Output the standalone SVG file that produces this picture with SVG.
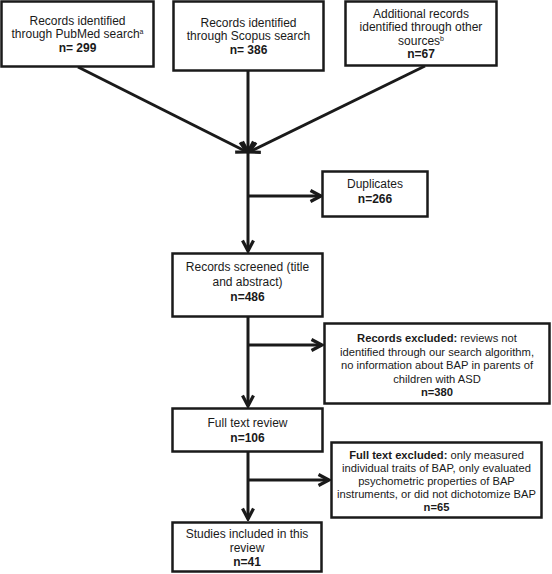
<svg xmlns="http://www.w3.org/2000/svg" width="552" height="574" viewBox="0 0 552 574">
<defs>
<style>
.box{fill:#fff;stroke:#1a1a1a;stroke-width:2.5}
.t{font-family:"Liberation Sans",Arial,sans-serif;font-size:12px;fill:#1a1a1a;text-anchor:middle}
.s{font-size:11.2px}
.b{font-weight:bold}
.sup{font-size:7px}
.ln{fill:none;stroke:#1a1a1a;stroke-width:3}
</style>
<marker id="ah" viewBox="0 0 14 14" refX="12" refY="7" markerWidth="14" markerHeight="14" markerUnits="userSpaceOnUse" orient="auto">
<path d="M1.5,1.5 L12,7 L1.5,12.5" fill="none" stroke="#1a1a1a" stroke-width="3.2" stroke-linejoin="miter"/>
</marker>
</defs>
<rect width="552" height="574" fill="#fff"/>
<g id="connectors">
<line class="ln" x1="78" y1="67" x2="247" y2="152" marker-end="url(#ah)"/>
<line class="ln" x1="248" y1="71" x2="248" y2="152" marker-end="url(#ah)"/>
<line class="ln" x1="425" y1="66" x2="249" y2="152" marker-end="url(#ah)"/>
<line class="ln" x1="248" y1="152" x2="248" y2="251" marker-end="url(#ah)"/>
<line class="ln" x1="248" y1="196" x2="321" y2="196" marker-end="url(#ah)"/>
<line class="ln" x1="248" y1="317" x2="248" y2="406" marker-end="url(#ah)"/>
<line class="ln" x1="248" y1="345" x2="322" y2="345" marker-end="url(#ah)"/>
<line class="ln" x1="248" y1="452" x2="248" y2="519" marker-end="url(#ah)"/>
<line class="ln" x1="248" y1="480" x2="329" y2="480" marker-end="url(#ah)"/>
</g>
<g id="pubmed">
<rect class="box" x="1.5" y="1.5" width="152" height="65"/>
<text class="t" x="77.5" y="25">Records identified</text>
<text class="t" x="77.5" y="38">through PubMed search<tspan class="sup" dy="-4">a</tspan></text>
<text class="t b" x="77.5" y="52">n= 299</text>
</g>
<g id="scopus">
<rect class="box" x="173.5" y="1.5" width="150" height="69"/>
<text class="t" x="248.5" y="27">Records identified</text>
<text class="t" x="248.5" y="40">through Scopus search</text>
<text class="t b" x="248.5" y="54">n= 386</text>
</g>
<g id="other">
<rect class="box" x="345.5" y="1.5" width="151" height="64"/>
<text class="t" x="421" y="18">Additional records</text>
<text class="t" x="421" y="31">identified through other</text>
<text class="t" x="421" y="44.5">sources<tspan class="sup" dy="-3.5">b</tspan></text>
<text class="t b" x="421" y="58">n=67</text>
</g>
<g id="duplicates">
<rect class="box" x="322.5" y="171.5" width="105" height="45"/>
<text class="t" x="375" y="188">Duplicates</text>
<text class="t b" x="375" y="203">n=266</text>
</g>
<g id="screened">
<rect class="box" x="172.5" y="253.5" width="150" height="63"/>
<text class="t" x="247.5" y="271">Records screened (title</text>
<text class="t" x="247.5" y="286">and abstract)</text>
<text class="t b" x="247.5" y="301">n=486</text>
</g>
<g id="records-excluded">
<rect class="box" x="324.5" y="323.5" width="225" height="80"/>
<text class="t s" x="437" y="342"><tspan class="b">Records excluded:</tspan> reviews not</text>
<text class="t s" x="437" y="355.5">identified through our search algorithm,</text>
<text class="t s" x="437" y="369">no information about BAP in parents of</text>
<text class="t s" x="437" y="382.5">children with ASD</text>
<text class="t s b" x="437" y="396">n=380</text>
</g>
<g id="fulltext">
<rect class="box" x="172.5" y="408.5" width="150" height="43"/>
<text class="t" x="247.5" y="427">Full text review</text>
<text class="t b" x="247.5" y="442">n=106</text>
</g>
<g id="fulltext-excluded">
<rect class="box" x="331.5" y="442.5" width="210" height="75"/>
<text class="t s" x="436.5" y="459"><tspan class="b">Full text excluded:</tspan> only measured</text>
<text class="t s" x="436.5" y="472">individual traits of BAP, only evaluated</text>
<text class="t s" x="436.5" y="485">psychometric properties of BAP</text>
<text class="t s" x="436.5" y="498">instruments, or did not dichotomize BAP</text>
<text class="t s b" x="436.5" y="511">n=65</text>
</g>
<g id="included">
<rect class="box" x="172.5" y="522.5" width="149" height="49"/>
<text class="t" x="247" y="538">Studies included in this</text>
<text class="t" x="247" y="552">review</text>
<text class="t b" x="247" y="566">n=41</text>
</g>
</svg>
